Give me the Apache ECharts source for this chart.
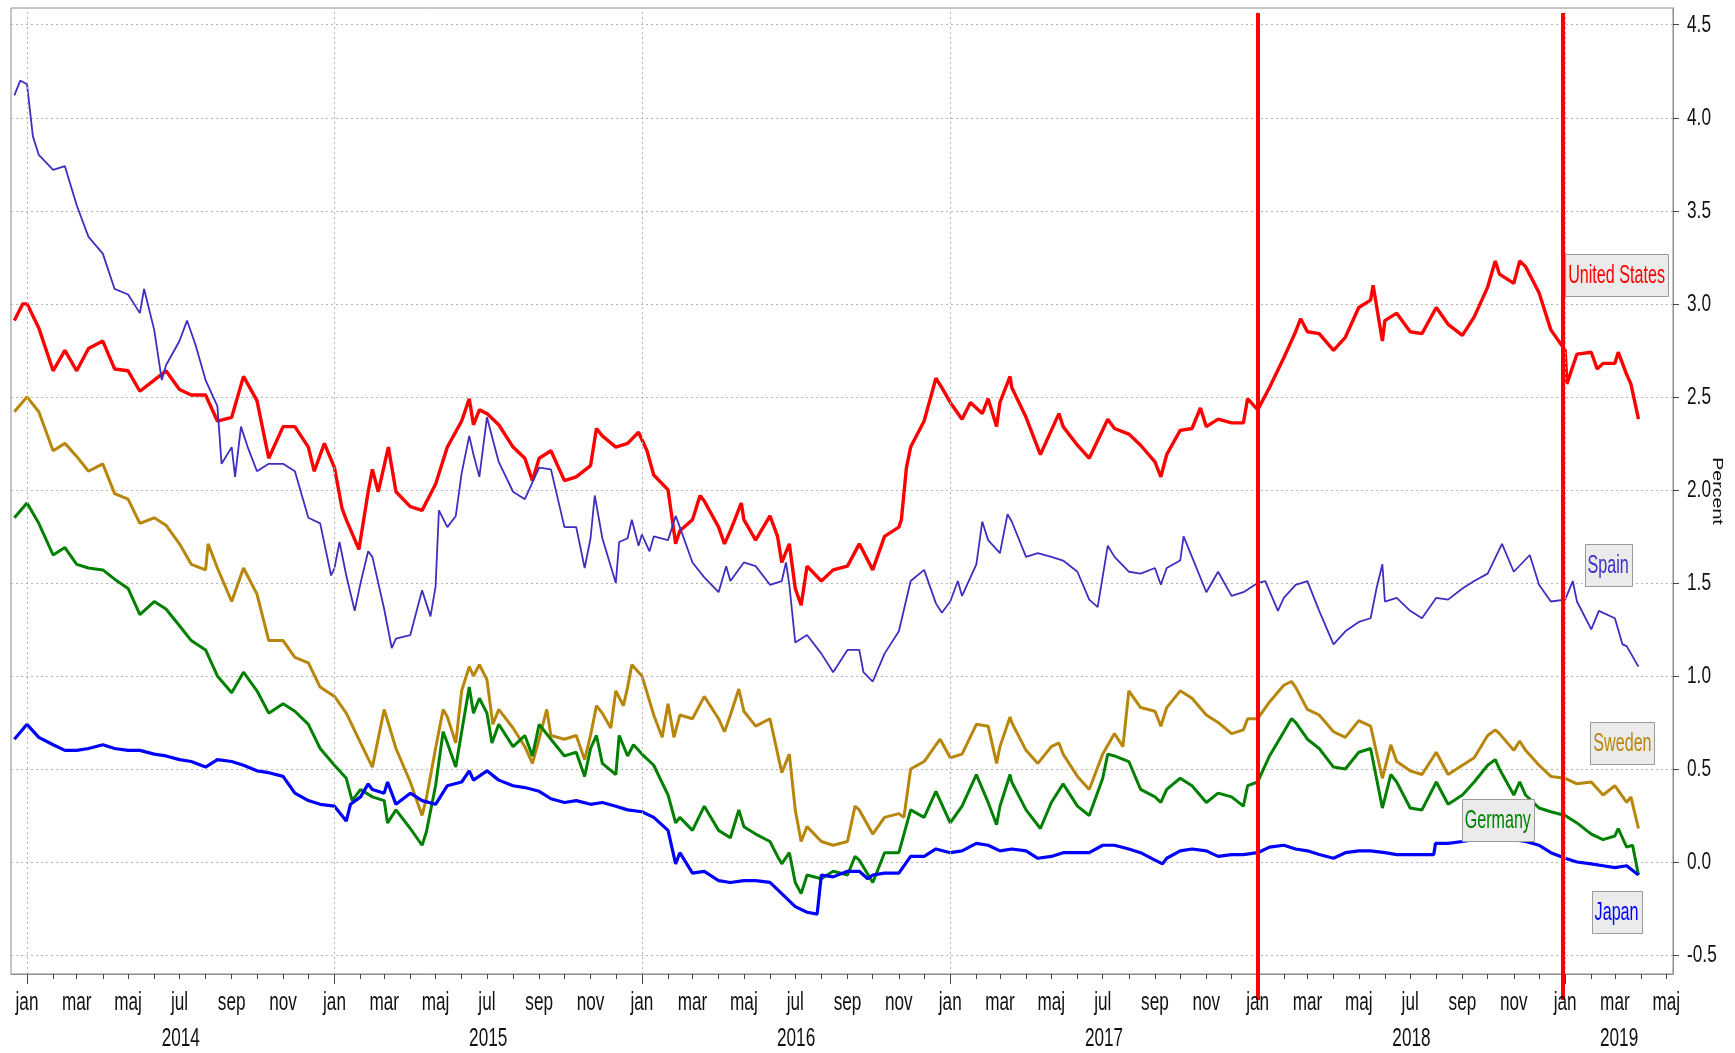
<!DOCTYPE html>
<html>
<head>
<meta charset="utf-8">
<script src="https://cdn.jsdelivr.net/npm/echarts@6/dist/echarts.min.js"></script>
<style>
html, body { margin: 0; padding: 0; background: #fff; }
#main { width: 1735px; height: 1053px; }
</style>
</head>
<body>
<div id="main"></div>
<script>
// 10-year government bond yields, percent
var usData = [
    ['2013-12-17', 2.91], ['2013-12-27', 3.00], ['2014-01-01', 3.00], ['2014-01-15', 2.87], ['2014-02-01', 2.64],
    ['2014-02-15', 2.75], ['2014-03-01', 2.64], ['2014-03-15', 2.76], ['2014-04-01', 2.80], ['2014-04-15', 2.65],
    ['2014-05-01', 2.64], ['2014-05-15', 2.53], ['2014-06-01', 2.59], ['2014-06-15', 2.64], ['2014-07-01', 2.54],
    ['2014-07-15', 2.51], ['2014-08-01', 2.51], ['2014-08-15', 2.37], ['2014-09-01', 2.39], ['2014-09-15', 2.61],
    ['2014-10-01', 2.48], ['2014-10-15', 2.17], ['2014-11-01', 2.34], ['2014-11-15', 2.34], ['2014-12-01', 2.23],
    ['2014-12-08', 2.10], ['2014-12-20', 2.25], ['2015-01-01', 2.12], ['2015-01-10', 1.90], ['2015-01-15', 1.84],
    ['2015-01-30', 1.68], ['2015-02-10', 1.99], ['2015-02-15', 2.11], ['2015-02-22', 1.99], ['2015-03-06', 2.23],
    ['2015-03-15', 1.99], ['2015-04-01', 1.91], ['2015-04-15', 1.89], ['2015-05-01', 2.03], ['2015-05-15', 2.23],
    ['2015-06-01', 2.37], ['2015-06-10', 2.49], ['2015-06-15', 2.35], ['2015-06-22', 2.43], ['2015-07-01', 2.41],
    ['2015-07-15', 2.35], ['2015-08-01', 2.23], ['2015-08-15', 2.17], ['2015-08-24', 2.05], ['2015-09-01', 2.17],
    ['2015-09-15', 2.21], ['2015-10-01', 2.05], ['2015-10-15', 2.07], ['2015-11-01', 2.13], ['2015-11-08', 2.33],
    ['2015-11-15', 2.29], ['2015-12-01', 2.23], ['2015-12-15', 2.25], ['2015-12-28', 2.31], ['2016-01-07', 2.21],
    ['2016-01-15', 2.08], ['2016-02-01', 2.00], ['2016-02-10', 1.71], ['2016-02-15', 1.78], ['2016-03-01', 1.84],
    ['2016-03-10', 1.97], ['2016-03-15', 1.94], ['2016-04-01', 1.80], ['2016-04-08', 1.71], ['2016-04-15', 1.78],
    ['2016-04-28', 1.93], ['2016-05-01', 1.84], ['2016-05-15', 1.73], ['2016-06-01', 1.86], ['2016-06-10', 1.75],
    ['2016-06-15', 1.61], ['2016-06-24', 1.71], ['2016-07-01', 1.47], ['2016-07-08', 1.38], ['2016-07-15', 1.59],
    ['2016-08-01', 1.51], ['2016-08-15', 1.57], ['2016-09-01', 1.59], ['2016-09-15', 1.71], ['2016-10-01', 1.57],
    ['2016-10-15', 1.75], ['2016-11-01', 1.80], ['2016-11-04', 1.84], ['2016-11-10', 2.12], ['2016-11-15', 2.23],
    ['2016-12-01', 2.37], ['2016-12-15', 2.60], ['2016-12-22', 2.55], ['2017-01-01', 2.47], ['2017-01-15', 2.38],
    ['2017-01-25', 2.47], ['2017-02-08', 2.41], ['2017-02-15', 2.49], ['2017-02-25', 2.34], ['2017-03-01', 2.47],
    ['2017-03-13', 2.61], ['2017-03-15', 2.55], ['2017-04-01', 2.39], ['2017-04-18', 2.19], ['2017-05-01', 2.32],
    ['2017-05-10', 2.41], ['2017-05-15', 2.34], ['2017-06-01', 2.24], ['2017-06-15', 2.17], ['2017-07-07', 2.38],
    ['2017-07-15', 2.33], ['2017-08-01', 2.30], ['2017-08-15', 2.24], ['2017-09-01', 2.15], ['2017-09-08', 2.07],
    ['2017-09-15', 2.19], ['2017-10-01', 2.32], ['2017-10-15', 2.33], ['2017-10-25', 2.44], ['2017-11-01', 2.34],
    ['2017-11-15', 2.38], ['2017-12-01', 2.36], ['2017-12-15', 2.36], ['2017-12-20', 2.49], ['2018-01-01', 2.43],
    ['2018-01-15', 2.55], ['2018-02-01', 2.71], ['2018-02-15', 2.85], ['2018-02-21', 2.92], ['2018-03-01', 2.85],
    ['2018-03-15', 2.84], ['2018-04-01', 2.75], ['2018-04-15', 2.82], ['2018-05-01', 2.98], ['2018-05-15', 3.02],
    ['2018-05-18', 3.10], ['2018-05-29', 2.80], ['2018-06-01', 2.91], ['2018-06-15', 2.95], ['2018-07-01', 2.85],
    ['2018-07-15', 2.84], ['2018-08-01', 2.98], ['2018-08-15', 2.89], ['2018-09-01', 2.83], ['2018-09-15', 2.93],
    ['2018-10-01', 3.09], ['2018-10-10', 3.23], ['2018-10-15', 3.16], ['2018-11-01', 3.11], ['2018-11-08', 3.23],
    ['2018-11-15', 3.20], ['2018-12-01', 3.06], ['2018-12-15', 2.86], ['2019-01-01', 2.75], ['2019-01-03', 2.57],
    ['2019-01-15', 2.73], ['2019-02-01', 2.74], ['2019-02-08', 2.65], ['2019-02-15', 2.68], ['2019-03-01', 2.68],
    ['2019-03-05', 2.74], ['2019-03-15', 2.62], ['2019-03-20', 2.57], ['2019-03-29', 2.38]
];

var spainData = [
    ['2013-12-17', 4.12], ['2013-12-24', 4.20], ['2014-01-01', 4.18], ['2014-01-08', 3.90], ['2014-01-15', 3.80],
    ['2014-02-01', 3.72], ['2014-02-15', 3.74], ['2014-03-01', 3.53], ['2014-03-15', 3.36], ['2014-04-01', 3.27],
    ['2014-04-15', 3.08], ['2014-05-01', 3.05], ['2014-05-15', 2.95], ['2014-05-20', 3.08], ['2014-06-01', 2.86],
    ['2014-06-10', 2.59], ['2014-06-15', 2.67], ['2014-07-01', 2.80], ['2014-07-10', 2.91], ['2014-07-20', 2.78],
    ['2014-08-01', 2.59], ['2014-08-15', 2.45], ['2014-08-20', 2.14], ['2014-09-01', 2.23], ['2014-09-05', 2.07],
    ['2014-09-12', 2.34], ['2014-09-20', 2.23], ['2014-10-01', 2.10], ['2014-10-15', 2.14], ['2014-11-01', 2.14],
    ['2014-11-15', 2.10], ['2014-12-01', 1.85], ['2014-12-15', 1.82], ['2014-12-28', 1.54], ['2015-01-01', 1.58],
    ['2015-01-07', 1.72], ['2015-01-15', 1.54], ['2015-01-25', 1.35], ['2015-02-01', 1.50], ['2015-02-10', 1.67],
    ['2015-02-15', 1.64], ['2015-03-01', 1.36], ['2015-03-10', 1.15], ['2015-03-15', 1.20], ['2015-04-01', 1.22],
    ['2015-04-15', 1.46], ['2015-04-25', 1.32], ['2015-05-01', 1.48], ['2015-05-05', 1.89], ['2015-05-15', 1.80],
    ['2015-05-25', 1.86], ['2015-06-01', 2.09], ['2015-06-10', 2.29], ['2015-06-15', 2.19], ['2015-06-22', 2.07],
    ['2015-07-01', 2.39], ['2015-07-15', 2.15], ['2015-08-01', 1.99], ['2015-08-15', 1.95], ['2015-09-01', 2.12],
    ['2015-09-15', 2.11], ['2015-10-01', 1.80], ['2015-10-15', 1.80], ['2015-10-25', 1.58], ['2015-11-01', 1.74],
    ['2015-11-06', 1.97], ['2015-11-15', 1.74], ['2015-12-01', 1.50], ['2015-12-05', 1.72], ['2015-12-15', 1.74],
    ['2015-12-20', 1.84], ['2015-12-28', 1.70], ['2016-01-01', 1.76], ['2016-01-10', 1.67], ['2016-01-15', 1.75],
    ['2016-02-01', 1.73], ['2016-02-10', 1.86], ['2016-02-15', 1.80], ['2016-03-01', 1.61], ['2016-03-15', 1.53],
    ['2016-04-01', 1.45], ['2016-04-10', 1.59], ['2016-04-15', 1.51], ['2016-05-01', 1.61], ['2016-05-15', 1.59],
    ['2016-06-01', 1.49], ['2016-06-15', 1.51], ['2016-06-20', 1.61], ['2016-06-24', 1.49], ['2016-07-01', 1.18],
    ['2016-07-15', 1.22], ['2016-08-01', 1.12], ['2016-08-15', 1.02], ['2016-09-01', 1.14], ['2016-09-15', 1.14],
    ['2016-09-20', 1.02], ['2016-10-01', 0.97], ['2016-10-15', 1.12], ['2016-11-01', 1.24], ['2016-11-15', 1.51],
    ['2016-12-01', 1.57], ['2016-12-15', 1.39], ['2016-12-22', 1.34], ['2017-01-01', 1.40], ['2017-01-10', 1.51],
    ['2017-01-15', 1.43], ['2017-02-01', 1.60], ['2017-02-08', 1.83], ['2017-02-15', 1.73], ['2017-03-01', 1.66],
    ['2017-03-10', 1.87], ['2017-03-15', 1.83], ['2017-04-01', 1.64], ['2017-04-15', 1.66], ['2017-05-01', 1.64],
    ['2017-05-15', 1.62], ['2017-06-01', 1.56], ['2017-06-15', 1.41], ['2017-06-25', 1.37], ['2017-07-07', 1.70],
    ['2017-07-15', 1.64], ['2017-08-01', 1.56], ['2017-08-15', 1.55], ['2017-09-01', 1.58], ['2017-09-08', 1.49],
    ['2017-09-15', 1.58], ['2017-10-01', 1.62], ['2017-10-05', 1.75], ['2017-10-15', 1.64], ['2017-11-01', 1.45],
    ['2017-11-15', 1.56], ['2017-12-01', 1.43], ['2017-12-15', 1.45], ['2018-01-01', 1.50], ['2018-01-10', 1.51],
    ['2018-01-25', 1.35], ['2018-02-01', 1.42], ['2018-02-15', 1.49], ['2018-03-01', 1.51], ['2018-03-15', 1.35],
    ['2018-04-01', 1.17], ['2018-04-15', 1.24], ['2018-05-01', 1.29], ['2018-05-15', 1.31], ['2018-05-22', 1.47],
    ['2018-05-29', 1.60], ['2018-06-01', 1.40], ['2018-06-15', 1.42], ['2018-07-01', 1.35], ['2018-07-15', 1.31],
    ['2018-08-01', 1.42], ['2018-08-15', 1.41], ['2018-09-01', 1.47], ['2018-09-15', 1.51], ['2018-10-01', 1.55],
    ['2018-10-18', 1.71], ['2018-11-01', 1.56], ['2018-11-20', 1.65], ['2018-12-01', 1.49], ['2018-12-15', 1.40],
    ['2019-01-01', 1.41], ['2019-01-10', 1.51], ['2019-01-15', 1.40], ['2019-02-01', 1.25], ['2019-02-10', 1.35],
    ['2019-03-01', 1.31], ['2019-03-10', 1.17], ['2019-03-15', 1.16], ['2019-03-29', 1.05]
];

var swedenData = [
    ['2013-12-17', 2.42], ['2014-01-01', 2.50], ['2014-01-15', 2.42], ['2014-02-01', 2.21], ['2014-02-15', 2.25],
    ['2014-03-01', 2.18], ['2014-03-15', 2.10], ['2014-04-01', 2.14], ['2014-04-15', 1.98], ['2014-05-01', 1.95],
    ['2014-05-15', 1.82], ['2014-06-01', 1.85], ['2014-06-15', 1.81], ['2014-07-01', 1.71], ['2014-07-15', 1.60],
    ['2014-08-01', 1.57], ['2014-08-04', 1.71], ['2014-08-15', 1.58], ['2014-09-01', 1.40], ['2014-09-15', 1.58],
    ['2014-10-01', 1.44], ['2014-10-15', 1.19], ['2014-11-01', 1.19], ['2014-11-15', 1.10], ['2014-12-01', 1.07],
    ['2014-12-15', 0.94], ['2015-01-01', 0.89], ['2015-01-15', 0.80], ['2015-02-01', 0.64], ['2015-02-15', 0.51],
    ['2015-03-01', 0.82], ['2015-03-15', 0.61], ['2015-04-01', 0.43], ['2015-04-15', 0.25], ['2015-04-20', 0.34],
    ['2015-05-01', 0.61], ['2015-05-10', 0.82], ['2015-05-15', 0.78], ['2015-05-25', 0.64], ['2015-06-01', 0.92],
    ['2015-06-10', 1.05], ['2015-06-15', 1.00], ['2015-06-22', 1.06], ['2015-07-01', 0.98], ['2015-07-08', 0.74],
    ['2015-07-15', 0.82], ['2015-08-01', 0.72], ['2015-08-15', 0.62], ['2015-08-24', 0.53], ['2015-09-01', 0.66],
    ['2015-09-10', 0.82], ['2015-09-15', 0.68], ['2015-10-01', 0.66], ['2015-10-15', 0.68], ['2015-10-25', 0.55],
    ['2015-11-01', 0.68], ['2015-11-08', 0.84], ['2015-11-15', 0.80], ['2015-11-25', 0.72], ['2015-12-01', 0.92],
    ['2015-12-10', 0.84], ['2015-12-15', 0.94], ['2015-12-20', 1.06], ['2016-01-01', 1.00], ['2016-01-15', 0.79],
    ['2016-01-25', 0.67], ['2016-02-01', 0.85], ['2016-02-08', 0.67], ['2016-02-15', 0.79], ['2016-03-01', 0.77],
    ['2016-03-15', 0.89], ['2016-04-01', 0.77], ['2016-04-08', 0.70], ['2016-04-15', 0.79], ['2016-04-25', 0.93],
    ['2016-05-01', 0.81], ['2016-05-15', 0.73], ['2016-06-01', 0.77], ['2016-06-15', 0.48], ['2016-06-24', 0.58],
    ['2016-07-01', 0.28], ['2016-07-08', 0.11], ['2016-07-15', 0.19], ['2016-08-01', 0.11], ['2016-08-15', 0.09],
    ['2016-09-01', 0.11], ['2016-09-10', 0.30], ['2016-09-15', 0.28], ['2016-10-01', 0.15], ['2016-10-15', 0.24],
    ['2016-11-01', 0.26], ['2016-11-07', 0.24], ['2016-11-15', 0.50], ['2016-12-01', 0.54], ['2016-12-15', 0.63],
    ['2016-12-20', 0.66], ['2017-01-01', 0.56], ['2017-01-15', 0.58], ['2017-02-01', 0.74], ['2017-02-15', 0.73],
    ['2017-02-25', 0.53], ['2017-03-01', 0.62], ['2017-03-13', 0.78], ['2017-03-15', 0.75], ['2017-04-01', 0.60],
    ['2017-04-15', 0.53], ['2017-05-01', 0.62], ['2017-05-10', 0.64], ['2017-05-15', 0.58], ['2017-06-01', 0.46],
    ['2017-06-15', 0.39], ['2017-07-01', 0.58], ['2017-07-15', 0.69], ['2017-07-25', 0.62], ['2017-08-01', 0.92],
    ['2017-08-15', 0.83], ['2017-09-01', 0.81], ['2017-09-08', 0.73], ['2017-09-15', 0.83], ['2017-10-01', 0.92],
    ['2017-10-15', 0.88], ['2017-11-01', 0.79], ['2017-11-15', 0.75], ['2017-12-01', 0.69], ['2017-12-15', 0.71],
    ['2017-12-20', 0.77], ['2018-01-01', 0.77], ['2018-01-15', 0.86], ['2018-02-01', 0.95], ['2018-02-10', 0.97],
    ['2018-02-15', 0.94], ['2018-03-01', 0.82], ['2018-03-15', 0.79], ['2018-04-01', 0.70], ['2018-04-15', 0.67],
    ['2018-05-01', 0.76], ['2018-05-15', 0.73], ['2018-05-29', 0.45], ['2018-06-08', 0.63], ['2018-06-15', 0.54],
    ['2018-07-01', 0.49], ['2018-07-15', 0.47], ['2018-08-01', 0.59], ['2018-08-15', 0.47], ['2018-09-01', 0.52],
    ['2018-09-15', 0.56], ['2018-10-01', 0.68], ['2018-10-10', 0.71], ['2018-10-15', 0.69], ['2018-11-01', 0.60],
    ['2018-11-08', 0.65], ['2018-11-15', 0.60], ['2018-12-01', 0.52], ['2018-12-15', 0.46], ['2019-01-01', 0.45],
    ['2019-01-15', 0.42], ['2019-02-01', 0.43], ['2019-02-15', 0.36], ['2019-03-01', 0.41], ['2019-03-15', 0.32],
    ['2019-03-20', 0.35], ['2019-03-29', 0.18]
];

var germanyData = [
    ['2013-12-17', 1.85], ['2014-01-01', 1.93], ['2014-01-15', 1.82], ['2014-02-01', 1.65], ['2014-02-15', 1.69],
    ['2014-03-01', 1.60], ['2014-03-15', 1.58], ['2014-04-01', 1.57], ['2014-04-15', 1.52], ['2014-05-01', 1.47],
    ['2014-05-15', 1.33], ['2014-06-01', 1.40], ['2014-06-15', 1.36], ['2014-07-01', 1.27], ['2014-07-15', 1.19],
    ['2014-08-01', 1.14], ['2014-08-15', 1.00], ['2014-09-01', 0.91], ['2014-09-15', 1.02], ['2014-10-01', 0.92],
    ['2014-10-15', 0.80], ['2014-11-01', 0.85], ['2014-11-15', 0.81], ['2014-12-01', 0.74], ['2014-12-15', 0.61],
    ['2015-01-01', 0.52], ['2015-01-15', 0.45], ['2015-01-22', 0.33], ['2015-02-01', 0.39], ['2015-02-15', 0.35],
    ['2015-03-01', 0.33], ['2015-03-05', 0.21], ['2015-03-15', 0.28], ['2015-04-01', 0.18], ['2015-04-15', 0.09],
    ['2015-04-20', 0.16], ['2015-05-01', 0.41], ['2015-05-10', 0.70], ['2015-05-15', 0.64], ['2015-05-25', 0.51],
    ['2015-06-01', 0.70], ['2015-06-10', 0.94], ['2015-06-15', 0.80], ['2015-06-22', 0.88], ['2015-07-01', 0.80],
    ['2015-07-07', 0.64], ['2015-07-15', 0.74], ['2015-08-01', 0.62], ['2015-08-15', 0.68], ['2015-08-24', 0.57],
    ['2015-09-01', 0.74], ['2015-09-15', 0.66], ['2015-10-01', 0.57], ['2015-10-15', 0.59], ['2015-10-25', 0.46],
    ['2015-11-01', 0.61], ['2015-11-08', 0.68], ['2015-11-15', 0.53], ['2015-12-01', 0.47], ['2015-12-05', 0.68],
    ['2015-12-15', 0.57], ['2015-12-22', 0.63], ['2016-01-01', 0.58], ['2016-01-15', 0.52], ['2016-02-01', 0.36],
    ['2016-02-10', 0.21], ['2016-02-15', 0.24], ['2016-03-01', 0.17], ['2016-03-15', 0.30], ['2016-04-01', 0.17],
    ['2016-04-15', 0.13], ['2016-04-25', 0.28], ['2016-05-01', 0.19], ['2016-05-15', 0.15], ['2016-06-01', 0.11],
    ['2016-06-10', 0.03], ['2016-06-15', -0.01], ['2016-06-24', 0.05], ['2016-07-01', -0.11], ['2016-07-08', -0.17],
    ['2016-07-15', -0.07], ['2016-08-01', -0.09], ['2016-08-15', -0.05], ['2016-09-01', -0.07], ['2016-09-10', 0.03],
    ['2016-09-15', 0.01], ['2016-10-01', -0.11], ['2016-10-15', 0.05], ['2016-11-01', 0.05], ['2016-11-15', 0.28],
    ['2016-12-01', 0.24], ['2016-12-15', 0.38], ['2017-01-01', 0.21], ['2017-01-15', 0.30], ['2017-02-01', 0.47],
    ['2017-02-15', 0.32], ['2017-02-25', 0.20], ['2017-03-01', 0.30], ['2017-03-13', 0.47], ['2017-03-15', 0.43],
    ['2017-04-01', 0.28], ['2017-04-18', 0.18], ['2017-05-01', 0.32], ['2017-05-15', 0.42], ['2017-06-01', 0.30],
    ['2017-06-15', 0.25], ['2017-07-01', 0.45], ['2017-07-07', 0.58], ['2017-07-15', 0.57], ['2017-08-01', 0.54],
    ['2017-08-15', 0.39], ['2017-09-01', 0.35], ['2017-09-08', 0.32], ['2017-09-15', 0.39], ['2017-10-01', 0.45],
    ['2017-10-15', 0.41], ['2017-11-01', 0.32], ['2017-11-15', 0.37], ['2017-12-01', 0.35], ['2017-12-15', 0.30],
    ['2017-12-20', 0.41], ['2018-01-01', 0.43], ['2018-01-15', 0.57], ['2018-02-01', 0.70], ['2018-02-10', 0.77],
    ['2018-02-15', 0.75], ['2018-03-01', 0.66], ['2018-03-15', 0.61], ['2018-04-01', 0.51], ['2018-04-15', 0.50],
    ['2018-05-01', 0.59], ['2018-05-15', 0.61], ['2018-05-29', 0.29], ['2018-06-08', 0.47], ['2018-06-15', 0.43],
    ['2018-07-01', 0.29], ['2018-07-15', 0.28], ['2018-08-01', 0.43], ['2018-08-15', 0.31], ['2018-09-01', 0.36],
    ['2018-09-15', 0.43], ['2018-10-01', 0.52], ['2018-10-10', 0.55], ['2018-10-15', 0.50], ['2018-11-01', 0.36],
    ['2018-11-08', 0.43], ['2018-11-15', 0.36], ['2018-12-01', 0.29], ['2018-12-15', 0.27], ['2019-01-01', 0.25],
    ['2019-01-15', 0.21], ['2019-02-01', 0.15], ['2019-02-15', 0.12], ['2019-03-01', 0.14], ['2019-03-05', 0.18],
    ['2019-03-15', 0.08], ['2019-03-22', 0.09], ['2019-03-29', -0.07]
];

var japanData = [
    ['2013-12-17', 0.66], ['2014-01-01', 0.74], ['2014-01-15', 0.67], ['2014-02-01', 0.63], ['2014-02-15', 0.60],
    ['2014-03-01', 0.60], ['2014-03-15', 0.61], ['2014-04-01', 0.63], ['2014-04-15', 0.61], ['2014-05-01', 0.60],
    ['2014-05-15', 0.60], ['2014-06-01', 0.58], ['2014-06-15', 0.57], ['2014-07-01', 0.55], ['2014-07-15', 0.54],
    ['2014-08-01', 0.51], ['2014-08-15', 0.55], ['2014-09-01', 0.54], ['2014-09-15', 0.52], ['2014-10-01', 0.49],
    ['2014-10-15', 0.48], ['2014-11-01', 0.46], ['2014-11-15', 0.37], ['2014-12-01', 0.33], ['2014-12-15', 0.31],
    ['2015-01-01', 0.30], ['2015-01-15', 0.22], ['2015-01-20', 0.31], ['2015-02-01', 0.35], ['2015-02-10', 0.42],
    ['2015-02-15', 0.39], ['2015-03-01', 0.37], ['2015-03-05', 0.43], ['2015-03-15', 0.31], ['2015-04-01', 0.37],
    ['2015-04-15', 0.33], ['2015-05-01', 0.31], ['2015-05-15', 0.41], ['2015-06-01', 0.43], ['2015-06-10', 0.49],
    ['2015-06-15', 0.44], ['2015-07-01', 0.49], ['2015-07-15', 0.44], ['2015-08-01', 0.41], ['2015-08-15', 0.40],
    ['2015-09-01', 0.38], ['2015-09-15', 0.34], ['2015-10-01', 0.32], ['2015-10-15', 0.33], ['2015-11-01', 0.31],
    ['2015-11-15', 0.32], ['2015-12-01', 0.30], ['2015-12-15', 0.28], ['2016-01-01', 0.27], ['2016-01-15', 0.24],
    ['2016-02-01', 0.17], ['2016-02-10', -0.01], ['2016-02-15', 0.05], ['2016-03-01', -0.06], ['2016-03-15', -0.05],
    ['2016-04-01', -0.10], ['2016-04-15', -0.11], ['2016-05-01', -0.10], ['2016-05-15', -0.10], ['2016-06-01', -0.11],
    ['2016-06-15', -0.17], ['2016-07-01', -0.24], ['2016-07-15', -0.27], ['2016-07-27', -0.28], ['2016-08-01', -0.07],
    ['2016-08-15', -0.08], ['2016-09-01', -0.05], ['2016-09-15', -0.05], ['2016-09-25', -0.09], ['2016-10-01', -0.07],
    ['2016-10-15', -0.06], ['2016-11-01', -0.06], ['2016-11-15', 0.03], ['2016-12-01', 0.03], ['2016-12-15', 0.07],
    ['2017-01-01', 0.05], ['2017-01-15', 0.06], ['2017-02-01', 0.10], ['2017-02-15', 0.09], ['2017-03-01', 0.06],
    ['2017-03-15', 0.07], ['2017-04-01', 0.06], ['2017-04-15', 0.02], ['2017-05-01', 0.03], ['2017-05-15', 0.05],
    ['2017-06-01', 0.05], ['2017-06-15', 0.05], ['2017-07-01', 0.09], ['2017-07-15', 0.09], ['2017-08-01', 0.07],
    ['2017-08-15', 0.05], ['2017-09-01', 0.01], ['2017-09-10', -0.01], ['2017-09-15', 0.02], ['2017-10-01', 0.06],
    ['2017-10-15', 0.07], ['2017-11-01', 0.06], ['2017-11-15', 0.03], ['2017-12-01', 0.04], ['2017-12-15', 0.04],
    ['2018-01-01', 0.05], ['2018-01-15', 0.08], ['2018-02-01', 0.09], ['2018-02-15', 0.07], ['2018-03-01', 0.06],
    ['2018-03-15', 0.04], ['2018-04-01', 0.02], ['2018-04-15', 0.05], ['2018-05-01', 0.06], ['2018-05-15', 0.06],
    ['2018-06-01', 0.05], ['2018-06-15', 0.04], ['2018-07-01', 0.04], ['2018-07-15', 0.04], ['2018-07-29', 0.04],
    ['2018-07-31', 0.10], ['2018-08-15', 0.10], ['2018-09-01', 0.11], ['2018-09-15', 0.12], ['2018-10-01', 0.14],
    ['2018-10-15', 0.14], ['2018-11-01', 0.12], ['2018-11-15', 0.11], ['2018-12-01', 0.09], ['2018-12-15', 0.05],
    ['2019-01-01', 0.02], ['2019-01-15', 0.00], ['2019-02-01', -0.01], ['2019-02-15', -0.02], ['2019-03-01', -0.03],
    ['2019-03-15', -0.02], ['2019-03-29', -0.07]
];

var monthNames = ['jan', 'feb', 'mar', 'apr', 'maj', 'jun', 'jul', 'aug', 'sep', 'okt', 'nov', 'dec'];
var yearList = [2014, 2015, 2016, 2017, 2018, 2019];
var yTickValues = [-0.5, 0, 0.5, 1, 1.5, 2, 2.5, 3, 3.5, 4, 4.5];
var redLineDates = ['2018-01-01', '2018-12-29'];

function ts(s) {
    var p = s.split('-');
    return new Date(+p[0], +p[1] - 1, +p[2]).getTime();
}

var xMin = ts('2013-12-13');
var xMax = ts('2019-05-09');
var yMin = -0.602;
var yMax = 4.59;
var fontFace = '"Liberation Sans", Arial, sans-serif';
var dotted = {color: '#b4b4b4', type: [2, 3], width: 1};

// month ticks, labels every second month, gridline and long tick every january
var monthTicks = [], monthLabels = [], janTicks = [], janLines = [];
yearList.forEach(function (y) {
    for (var m = 0; m < 12; m++) {
        var t = new Date(y, m, 1).getTime();
        if (t > xMax) break;
        monthTicks.push(t);
        if (m % 2 === 0) monthLabels.push(t);
        if (m === 0) {
            janTicks.push(t);
            janLines.push({xAxis: t});
        }
    }
});
var yearCenters = yearList.map(function (y) {
    var a = Math.max(new Date(y, 0, 1).getTime(), xMin);
    var b = Math.min(new Date(y + 1, 0, 1).getTime(), xMax);
    return (a + b) / 2;
});

function makeSeries(name, data, color, width) {
    return {
        name: name,
        type: 'line',
        symbol: 'none',
        data: data.map(function (d) { return [ts(d[0]), d[1]]; }),
        lineStyle: {color: color, width: width},
        itemStyle: {color: color},
        z: 3
    };
}

var chart = echarts.init(document.getElementById('main'));

var option = {
    animation: false,
    backgroundColor: '#ffffff',
    grid: {
        left: 11,
        right: 62,
        top: 8,
        bottom: 79,
        outerBoundsMode: 'none',
        show: true,
        borderColor: '#8c8c8c',
        borderWidth: 1
    },
    xAxis: [
        {
            type: 'value',
            min: xMin,
            max: xMax,
            position: 'bottom',
            axisLine: {onZero: false, lineStyle: {color: '#8c8c8c'}},
            axisTick: {customValues: monthTicks, length: 5, lineStyle: {color: '#444'}},
            axisLabel: {show: false},
            splitLine: {show: false}
        },
        {
            type: 'value',
            min: xMin,
            max: xMax,
            position: 'bottom',
            axisLine: {show: false, onZero: false},
            axisTick: {customValues: janTicks, length: 10, lineStyle: {color: '#444'}},
            axisLabel: {show: false},
            splitLine: {show: false}
        }
    ],
    yAxis: {
        type: 'value',
        position: 'right',
        min: yMin,
        max: yMax,
        axisLine: {show: true, lineStyle: {color: '#8c8c8c'}},
        axisTick: {show: true, customValues: yTickValues, length: 6, lineStyle: {color: '#444'}},
        axisLabel: {show: false, customValues: yTickValues},
        splitLine: {show: true, lineStyle: dotted}
    },
    series: [
        {
            name: 'grid',
            type: 'line',
            data: [],
            z: 1,
            markLine: {
                silent: true,
                symbol: 'none',
                label: {show: false},
                lineStyle: dotted,
                data: janLines
            }
        },
        makeSeries('United States', usData, '#ff0000', 3.4),
        makeSeries('Spain', spainData, '#3d2fc0', 1.8),
        makeSeries('Sweden', swedenData, '#b8860b', 3),
        makeSeries('Germany', germanyData, '#008000', 3),
        makeSeries('Japan', japanData, '#0000ff', 3.2)
    ]
};

chart.setOption(option);

// texts in the source are tall and condensed, so they are drawn squeezed horizontally
function px(t) { return chart.convertToPixel({xAxisIndex: 0}, t); }
function py(v) { return chart.convertToPixel({yAxisIndex: 0}, v); }

var gridBottom = py(yMin);
var gridRight = px(xMax);
var measure = document.createElement('canvas').getContext('2d');
var graphics = [];

function squeezedText(text, x, y, size, sx, align, color) {
    return {
        type: 'text', x: x, y: y, scaleX: sx, z: 100, silent: true,
        style: {text: text, font: size + 'px ' + fontFace, fill: color || '#111',
                align: align || 'center', verticalAlign: 'middle'}
    };
}

monthLabels.forEach(function (t) {
    graphics.push(squeezedText(monthNames[new Date(t).getMonth()], px(t), gridBottom + 29, 26, 0.66));
});
yearCenters.forEach(function (t) {
    graphics.push(squeezedText(String(new Date(t).getFullYear()), px(t), gridBottom + 65, 26, 0.66));
});
yTickValues.forEach(function (v) {
    graphics.push(squeezedText(v.toFixed(1), gridRight + 14, py(v) + 1, 23, 0.75, 'left'));
});
graphics.push({
    type: 'text', x: gridRight + 44, y: py((yMin + yMax) / 2), rotation: -Math.PI / 2, scaleX: 1.4,
    z: 100, silent: true,
    style: {text: 'Percent', font: '14px ' + fontFace, fill: '#111', align: 'center', verticalAlign: 'middle'}
});

// red vertical markers, running slightly past the axis like in the source
redLineDates.forEach(function (d) {
    var x = Math.round(px(ts(d)));
    graphics.push({
        type: 'line', z: 90, silent: true,
        shape: {x1: x, y1: 13, x2: x, y2: 1000},
        style: {stroke: '#ff0000', lineWidth: 4}
    });
});

// boxed series names
var boxes = [
    ['United States', '#ff0000', '2019-03-03', 3.156],
    ['Spain', '#3d2fc0', '2019-02-21', 1.597],
    ['Sweden', '#b8860b', '2019-03-10', 0.64],
    ['Germany', '#008000', '2018-10-13', 0.226],
    ['Japan', '#0000ff', '2019-03-03', -0.269]
];
boxes.forEach(function (b) {
    var cx = px(ts(b[2])), cy = py(b[3]);
    measure.font = '26px ' + fontFace;
    var w = measure.measureText(b[0]).width * 0.62 + 6;
    var h = 42;
    graphics.push({
        type: 'rect', z: 95, silent: true,
        shape: {x: Math.round(cx - w / 2) + 0.5, y: Math.round(cy - h / 2) + 0.5, width: Math.round(w), height: h},
        style: {fill: '#ebebeb', stroke: '#9a9a9a', lineWidth: 1}
    });
    graphics.push(squeezedText(b[0], cx, cy + 1, 26, 0.62, 'center', b[1]));
});

chart.setOption({graphic: graphics});
</script>
</body>
</html>
